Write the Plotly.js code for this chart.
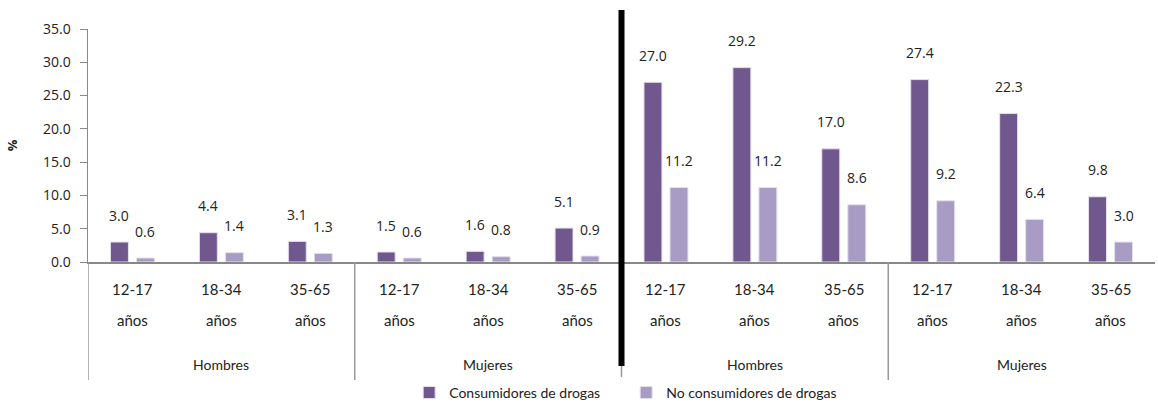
<!DOCTYPE html>
<html>
<head>
<meta charset="utf-8">
<script src="https://cdn.plot.ly/plotly-3.0.1.min.js"></script>
<style>html,body{margin:0;padding:0;background:#fff;}#chart{width:1158px;height:405px;}</style>
</head>
<body>
<div id="chart"></div>
<script>
const ages = ['12-17','18-34','35-65','12-17','18-34','35-65','12-17','18-34','35-65','12-17','18-34','35-65'];
const groups = ['Hombres','Mujeres','Hombres','Mujeres'];
const consumidores = [3.0,4.4,3.1,1.5,1.6,5.1,27.0,29.2,17.0,27.4,22.3,9.8];
const noConsumidores = [0.6,1.4,1.3,0.6,0.8,0.9,11.2,11.2,8.6,9.2,6.4,3.0];
const seriesNames = ['Consumidores de drogas','No consumidores de drogas'];
const yTicks = [0,5,10,15,20,25,30,35];

const idx = ages.map((_, i) => i);
const darkC = '#70588F', lightC = '#A99CC4';
const numFont = {family: 'Open Sans, sans-serif', size: 14, color: '#222'};
const catFont = {family: 'Lato, sans-serif', size: 15, color: '#222'};

const traces = [
  {type:'bar', x: idx, y: consumidores, name: seriesNames[0], marker:{color:darkC, line:{color:'#e4e0ea', width:1}}, hoverinfo:'y'},
  {type:'bar', x: idx, y: noConsumidores, name: seriesNames[1], marker:{color:lightC, line:{color:'#e4e0ea', width:1}}, hoverinfo:'y'}
];

const ann = [];
idx.forEach(i => {
  ann.push({x:i, y:consumidores[i], xref:'x', yref:'y', text:consumidores[i].toFixed(1), showarrow:false, xshift:-13, yshift:27, yanchor:'middle', font:numFont});
  ann.push({x:i, y:noConsumidores[i], xref:'x', yref:'y', text:noConsumidores[i].toFixed(1), showarrow:false, xshift:13, yshift:27, yanchor:'middle', font:numFont});
  ann.push({x:i, y:-0.118, xref:'x', yref:'paper', text:ages[i], showarrow:false, yanchor:'middle', font:catFont});
  ann.push({x:i, y:-0.249, xref:'x', yref:'paper', text:'años', showarrow:false, yanchor:'middle', font:catFont});
});
groups.forEach((g, k) => {
  ann.push({x:k*3+1, y:-0.442, xref:'x', yref:'paper', text:g, showarrow:false, yanchor:'middle', font:{family:'Lato, sans-serif', size:14, color:'#222'}});
});

const shapes = [];
[-0.5, 2.5, 5.5, 8.5].forEach(xv => {
  shapes.push({type:'line', xref:'x', yref:'paper', x0:xv, x1:xv, y0:0, y1:-0.506, line:{color:'#999', width:1.5}});
});
shapes.push({type:'line', xref:'x', yref:'paper', x0:5.5, x1:5.5, y0:-0.446, y1:1.082, line:{color:'#000', width:6}});

const layout = {
  width:1158, height:405,
  margin:{l:88, r:3, t:29, b:143, autoexpand:false},
  paper_bgcolor:'#fff', plot_bgcolor:'#fff',
  barmode:'group', bargap:0.415, bargroupgap:0.31,
  showlegend:true,
  legend:{orientation:'h', x:0.301, xanchor:'left', y:-0.562, yanchor:'middle', entrywidth:172, entrywidthmode:'pixels', font:{family:'Lato, sans-serif', size:14, color:'#222'}, itemwidth:30},
  xaxis:{range:[-0.5,11.5], showticklabels:false, ticks:'', showgrid:false, zeroline:false, showline:true, linecolor:'#888', linewidth:1.5, fixedrange:true},
  yaxis:{range:[0,35], tickvals:yTicks, ticktext:yTicks.map(v=>v.toFixed(1)), ticks:'outside', ticklen:7, tickcolor:'#888', showgrid:false, zeroline:false, showline:true, linecolor:'#888', linewidth:1.5, tickfont:numFont, ticklabelstandoff:6,
    title:{text:'<b>%</b>', font:{family:'Open Sans, sans-serif', size:13, color:'#222'}, standoff:22}},
  annotations: ann,
  shapes: shapes
};

Plotly.newPlot('chart', traces, layout, {displayModeBar:false, staticPlot:true});
</script>
</body>
</html>
